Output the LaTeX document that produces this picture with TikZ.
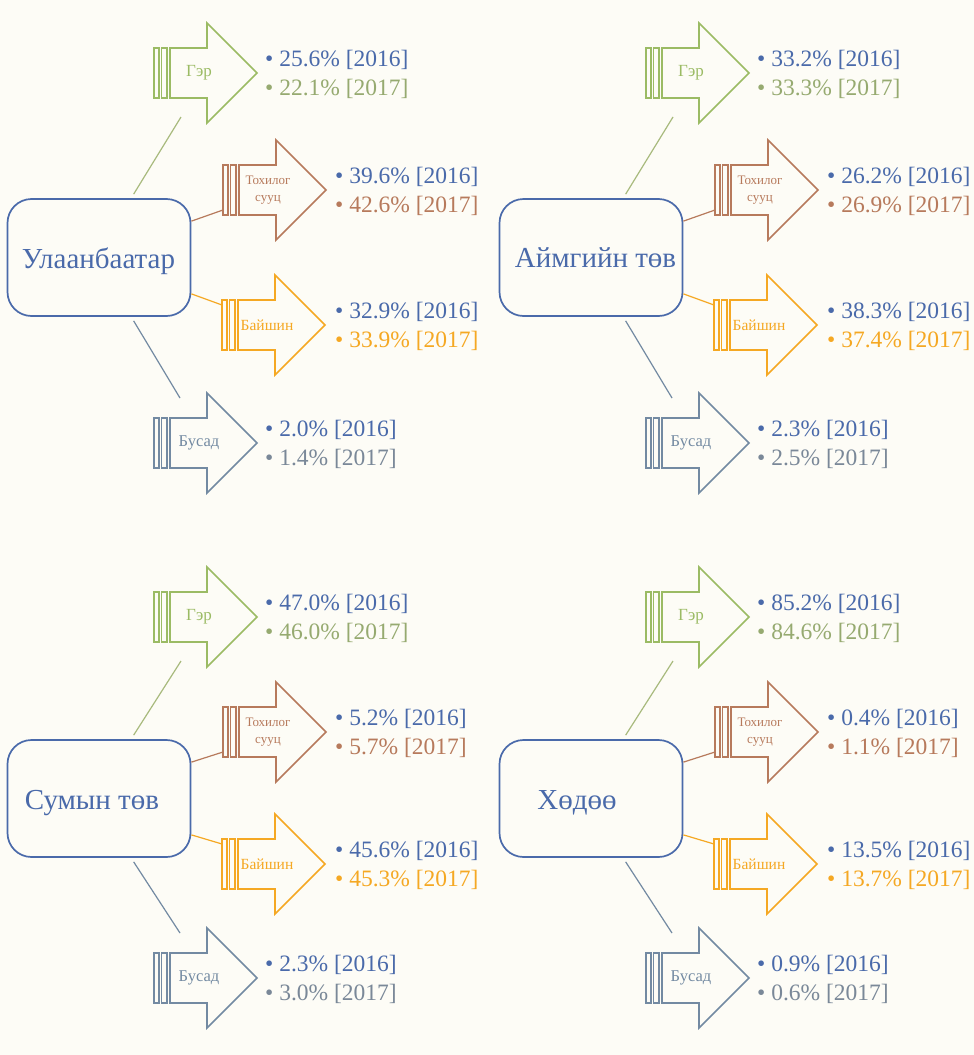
\documentclass[tikz,border=0pt]{standalone}
\usepackage{fontspec}
\setmainfont{Liberation Serif}
\definecolor{bgc}{RGB}{253,252,246}
\definecolor{blu}{RGB}{74,106,170}
\definecolor{grn}{RGB}{155,187,100}
\definecolor{grnt}{RGB}{150,170,112}
\definecolor{grnc}{RGB}{168,186,125}
\definecolor{brn}{RGB}{183,122,92}
\definecolor{org}{RGB}{245,168,35}
\definecolor{sla}{RGB}{115,138,162}
\definecolor{slat}{RGB}{122,136,152}
\tikzset{
  aline/.style={line width=1.6pt, line join=miter},
  bline/.style={line width=1.2pt},
  conn/.style={line width=1.2pt},
  boxs/.style={draw=blu, line width=1.7pt, rounded corners=24pt, minimum width=183pt, minimum height=117pt, inner sep=0pt},
  boxt/.style={font=\fontsize{29}{29}\selectfont, text=blu, anchor=base, inner sep=0pt},
  valt/.style={font=\fontsize{23.5}{28}\selectfont, anchor=base west, inner sep=0pt},
  lbl/.style={align=center, inner sep=0pt},
  lg/.style={font=\fontsize{17}{19}\selectfont},
  lt/.style={font=\fontsize{13}{17}\selectfont},
  lb/.style={font=\fontsize{15.5}{17}\selectfont},
  lu/.style={font=\fontsize{16.5}{18}\selectfont}
}
% #1 name, #2 x, #3 cy, #4 colour, #5 label style, #6 label
\newcommand\sarrow[6]{%
  \begin{scope}[shift={(#2,#3)}]
    \draw[draw=#4,bline] (0,-25) rectangle (5,25) (7.5,-25) rectangle (13,25);
    \draw[draw=#4,aline] (16,-25) -- (53,-25) -- (53,-50) -- (103,0) -- (53,50) -- (53,25) -- (16,25) -- cycle;
    \node[lbl,#5,text=#4] (#1) at (45,0) {#6};
    \coordinate (#1-below) at (27,44);
    \coordinate (#1-above) at (26,-45);
    \coordinate (#1-lowleft) at (0,20);
    \coordinate (#1-upleft) at (0,-20);
  \end{scope}}
% #1 name, #2 x, #3 cy, #4 colour, #5 2016, #6 2017
\newcommand\vals[6]{%
  \node[valt,text=blu] (#1-a) at (#2,#3-7) {• #5\% [2016]};
  \node[valt,text=#4] (#1-b) at (#2,#3+22) {• #6\% [2017]};}
% #1 box name
\newcommand\links[1]{%
  \draw[conn,draw=grnc] ([xshift=127pt,yshift=4pt]#1.north west) -- (#1g-below);
  \draw[conn,draw=brn] ([yshift=-23pt]#1.north east) -- (#1t-lowleft);
  \draw[conn,draw=org] ([yshift=23pt]#1.south east) -- (#1b-upleft);
  \draw[conn,draw=sla] ([xshift=127pt,yshift=-4pt]#1.south west) -- (#1u-above);}
\begin{document}
\begin{tikzpicture}[x=1pt,y=-1pt]
\fill[bgc] (0,0) rectangle (974,1055);
\useasboundingbox (0,0) rectangle (974,1055);

% ---------- Panel A ----------
\node[boxs] (A) at (99,257.5) {};
\node[boxt] (A-t) at (98.5,268) {Улаанбаатар};
\sarrow{Ag}{154}{73}{grn}{lg}{Гэр}
\sarrow{At}{223}{190}{brn}{lt}{Тохилог\\сууц}
\sarrow{Ab}{222}{325}{org}{lb}{Байшин}
\sarrow{Au}{154}{443}{sla}{lu}{Бусад}
\vals{Agv}{265}{73}{grnt}{25.6}{22.1}
\vals{Atv}{335}{190}{brn}{39.6}{42.6}
\vals{Abv}{335}{325}{org}{32.9}{33.9}
\vals{Auv}{265}{443}{slat}{2.0}{1.4}
\links{A}

% ---------- Panel B ----------
\node[boxs] (B) at (591,257.5) {};
\node[boxt] (B-t) at (595.5,267) {Аймгийн төв};
\sarrow{Bg}{646}{73}{grn}{lg}{Гэр}
\sarrow{Bt}{715}{190}{brn}{lt}{Тохилог\\сууц}
\sarrow{Bb}{714}{325}{org}{lb}{Байшин}
\sarrow{Bu}{646}{443}{sla}{lu}{Бусад}
\vals{Bgv}{757}{73}{grnt}{33.2}{33.3}
\vals{Btv}{827}{190}{brn}{26.2}{26.9}
\vals{Bbv}{827}{325}{org}{38.3}{37.4}
\vals{Buv}{757}{443}{slat}{2.3}{2.5}
\links{B}

% ---------- Panel C ----------
\node[boxs] (C) at (99,798.5) {};
\node[boxt] (C-t) at (92,809.5) {Сумын төв};
\sarrow{Cg}{154}{617}{grn}{lg}{Гэр}
\sarrow{Ct}{223}{732}{brn}{lt}{Тохилог\\сууц}
\sarrow{Cb}{222}{864}{org}{lb}{Байшин}
\sarrow{Cu}{154}{978}{sla}{lu}{Бусад}
\vals{Cgv}{265}{617}{grnt}{47.0}{46.0}
\vals{Ctv}{335}{732}{brn}{5.2}{5.7}
\vals{Cbv}{335}{864}{org}{45.6}{45.3}
\vals{Cuv}{265}{978}{slat}{2.3}{3.0}
\links{C}

% ---------- Panel D ----------
\node[boxs] (D) at (591,798.5) {};
\node[boxt] (D-t) at (577,809) {Хөдөө};
\sarrow{Dg}{646}{617}{grn}{lg}{Гэр}
\sarrow{Dt}{715}{732}{brn}{lt}{Тохилог\\сууц}
\sarrow{Db}{714}{864}{org}{lb}{Байшин}
\sarrow{Du}{646}{978}{sla}{lu}{Бусад}
\vals{Dgv}{757}{617}{grnt}{85.2}{84.6}
\vals{Dtv}{827}{732}{brn}{0.4}{1.1}
\vals{Dbv}{827}{864}{org}{13.5}{13.7}
\vals{Duv}{757}{978}{slat}{0.9}{0.6}
\links{D}
\end{tikzpicture}
\end{document}
